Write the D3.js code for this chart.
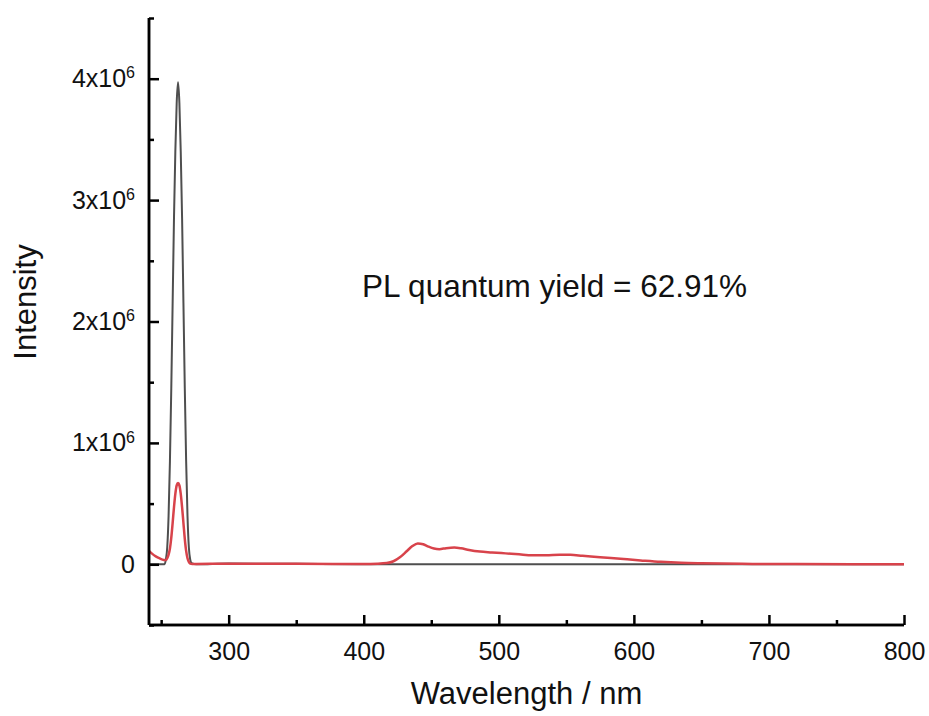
<!DOCTYPE html>
<html>
    <head>
        <title></title>
        <script src="https://d3js.org/d3.v7.min.js"></script>
        <style>
            body { margin: 0; background: #fff; }
        </style>
    </head>

    <body>
        <div id="my_dataviz"></div>
    </body>

    <script>
        // excitation (scatter) spectrum, values in units of 1e6
        var blackNm  = [241, 246, 250, 252.5, 253.5, 254.5, 255.5, 256.5, 257.5, 258.5, 259.5, 260.5, 261.5, 262.5,
                        263.5, 264.5, 265.5, 266.5, 267.5, 268.5, 269.5, 270.5, 271.5, 272.5, 276, 300, 350, 400, 500, 600, 700, 800]
        var blackVal = [0.0, 0.0, 0.0, 0.0, 0.04, 0.14, 0.4, 0.85, 1.45, 2.15, 2.85, 3.4, 3.8, 3.97,
                        3.8, 3.4, 2.85, 2.15, 1.45, 0.85, 0.4, 0.14, 0.04, 0.01, 0.0, 0.006, 0.004, 0.0, 0.0, 0.0, 0.0, 0.0]

        // sample spectrum (scatter + emission), values in units of 1e6
        var redNm  = [241, 243, 246, 249, 252, 253.5, 254.5, 255.5, 256.5, 257.5, 258.5, 259.5, 260.5, 261.5, 262.5,
                      263.5, 264.5, 265.5, 266.5, 267.5, 268.5, 269.5, 270.5, 271.5, 273, 300, 350, 400, 410, 417, 422,
                      427, 432, 436, 440, 444, 448, 452, 456, 461, 467, 472, 478, 486, 495, 505, 515, 525, 535, 545,
                      553, 562, 575, 590, 605, 620, 635, 650, 680, 720, 800]
        var redVal = [0.11, 0.09, 0.065, 0.048, 0.036, 0.035, 0.05, 0.08, 0.13, 0.22, 0.34, 0.47, 0.58, 0.65, 0.67,
                      0.65, 0.58, 0.47, 0.34, 0.21, 0.11, 0.05, 0.02, 0.006, 0.003, 0.005, 0.004, 0.003, 0.005, 0.01, 0.025,
                      0.06, 0.11, 0.15, 0.172, 0.165, 0.145, 0.13, 0.125, 0.133, 0.138, 0.132, 0.118, 0.105, 0.098, 0.09, 0.082, 0.075, 0.074, 0.078,
                      0.078, 0.07, 0.058, 0.045, 0.032, 0.02, 0.012, 0.008, 0.004, 0.002, 0.0]

        var xMajor = [300, 400, 500, 600, 700, 800]
        var xMinor = [250, 350, 450, 550, 650, 750]
        var yMajor = [0, 1e6, 2e6, 3e6, 4e6]
        var yMinor = [-0.5e6, 0.5e6, 1.5e6, 2.5e6, 3.5e6, 4.5e6]

        var W = 929, H = 716
        var margin = { left: 149, right: 904, top: 18, bottom: 625 }

        var svg = d3.select("#my_dataviz")
        .append("svg")
        .attr("width", W)
        .attr("height", H)
        .style("font-family", "Liberation Sans, Arial, sans-serif")

        var x = d3.scaleLinear().domain([241, 800]).range([margin.left, margin.right])
        var y = d3.scaleLinear().domain([-0.5e6, 4.5e6]).range([margin.bottom, margin.top])

        // lines
        var line = d3.line()
        .x(function(d) { return x(d[0]) })
        .y(function(d) { return y(d[1] * 1e6) })
        .curve(d3.curveMonotoneX)

        svg.append("path")
        .datum(d3.zip(blackNm, blackVal))
        .attr("fill", "none")
        .attr("stroke", "#4f4f4f")
        .attr("stroke-width", 2)
        .attr("d", line)

        svg.append("path")
        .datum(d3.zip(redNm, redVal))
        .attr("fill", "none")
        .attr("stroke", "#d8434b")
        .attr("stroke-width", 2.5)
        .attr("d", line)

        // x axis
        var gx = svg.append("g")
        .attr("transform", "translate(0," + margin.bottom + ")")
        .call(d3.axisBottom(x).tickValues(xMajor).tickSize(-10).tickPadding(17))
        gx.append("g").call(d3.axisBottom(x).tickValues(xMinor).tickSize(-5).tickFormat(""))
        gx.selectAll(".domain").attr("d", "M" + margin.left + ",0H" + margin.right)

        // y axis
        var gy = svg.append("g")
        .attr("transform", "translate(" + margin.left + ",0)")
        .call(d3.axisLeft(y).tickValues(yMajor).tickSize(-10).tickPadding(14)
            .tickFormat(function(d) { return d === 0 ? "0" : (d / 1e6) + "x10" }))

        // superscript exponent on the major labels only
        gy.selectAll(".tick text")
        .filter(function(d) { return d !== 0 })
        .append("tspan")
        .attr("dy", "-0.55em")
        .text("6")

        gy.append("g").call(d3.axisLeft(y).tickValues(yMinor).tickSize(-5).tickFormat(""))
        gy.selectAll(".domain").attr("d", "M0," + margin.top + "V" + margin.bottom)

        svg.selectAll(".domain").attr("stroke", "#000").attr("stroke-width", 2.5)
        svg.selectAll(".tick line").attr("stroke", "#000").attr("stroke-width", 2.5)
        svg.selectAll(".tick text").style("font-size", "25px").attr("fill", "#111").style("font-family", "Liberation Sans, Arial, sans-serif")
        gy.selectAll(".tick text tspan").style("font-size", "16px")

        // axis titles
        svg.append("text")
        .attr("x", (margin.left + margin.right) / 2)
        .attr("y", 704)
        .attr("text-anchor", "middle")
        .style("font-size", "31px")
        .attr("fill", "#111")
        .text("Wavelength / nm")

        svg.append("text")
        .attr("transform", "rotate(-90)")
        .attr("x", -302)
        .attr("y", 36)
        .attr("text-anchor", "middle")
        .style("font-size", "31px")
        .attr("fill", "#111")
        .text("Intensity")

        // annotation
        svg.append("text")
        .attr("x", 362)
        .attr("y", 297)
        .style("font-size", "31.5px")
        .attr("fill", "#111")
        .text("PL quantum yield = 62.91%")
    </script>
</html>
